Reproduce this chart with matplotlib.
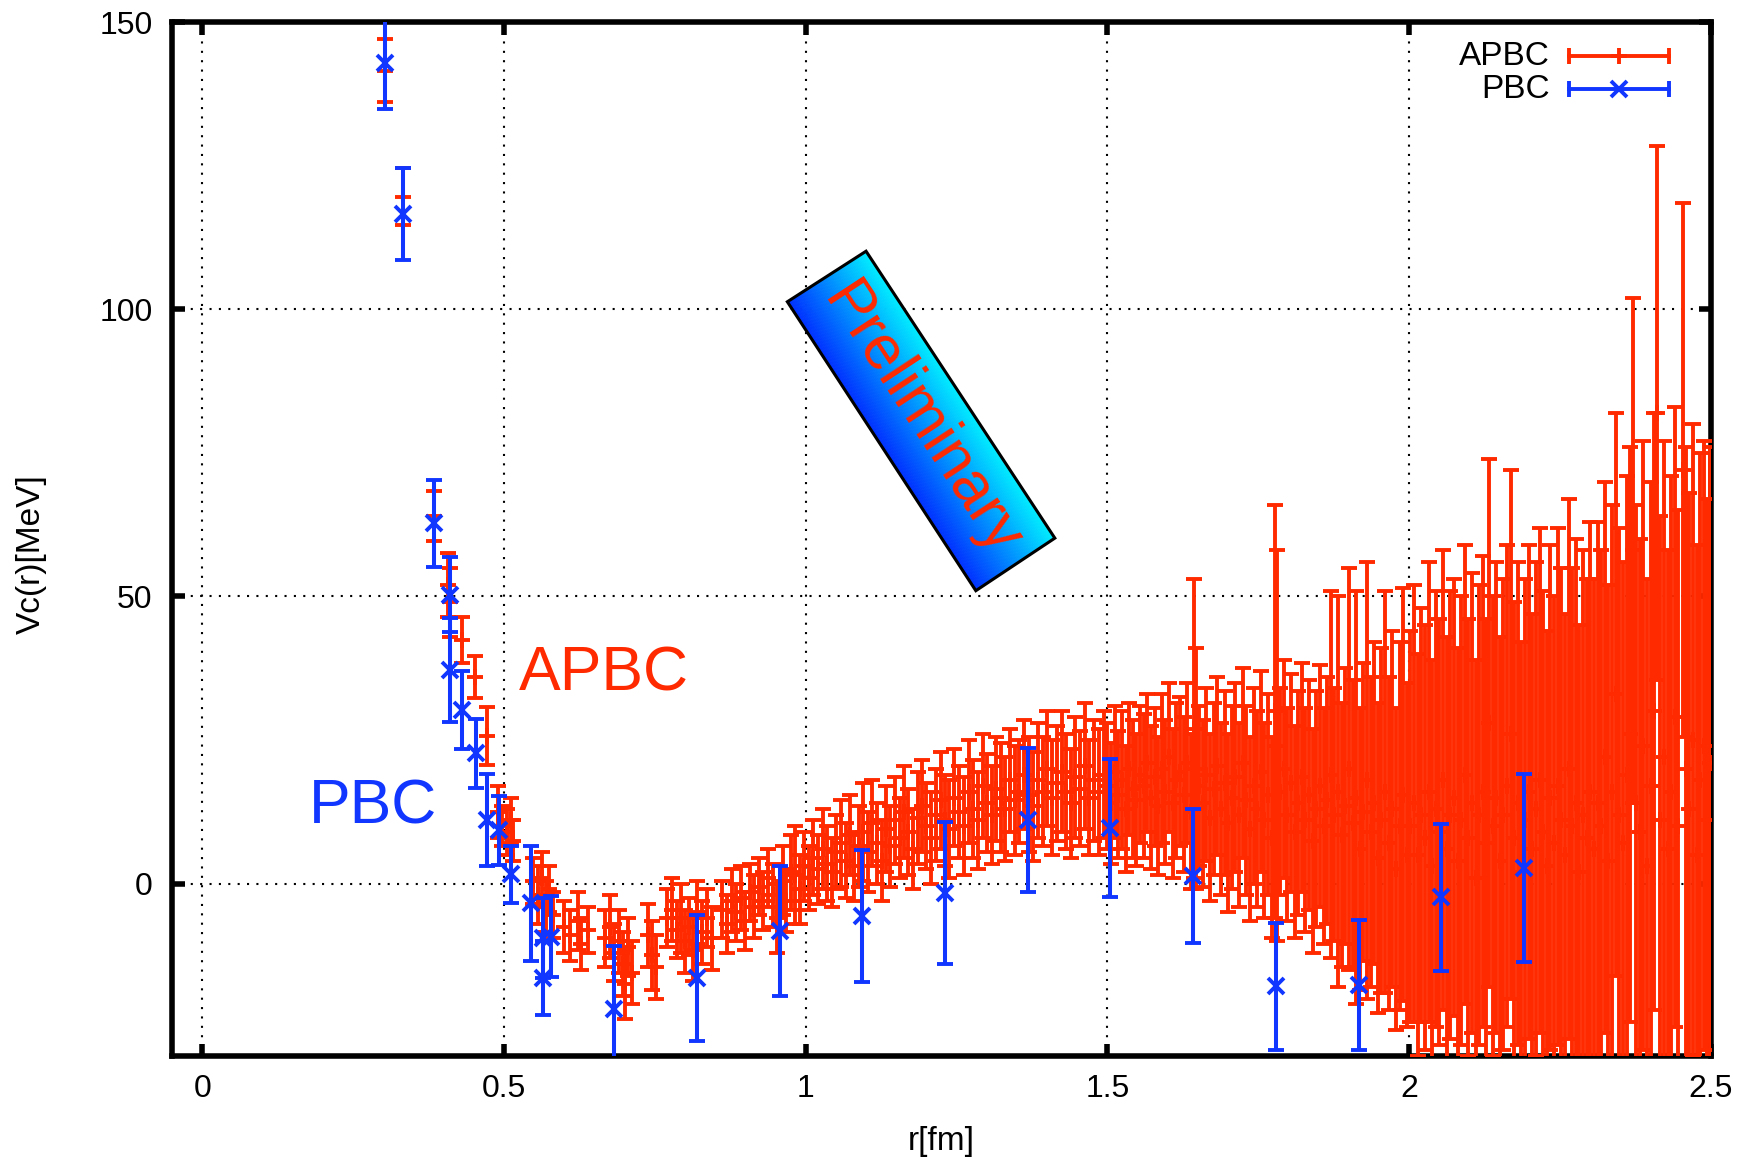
import numpy as np
import matplotlib
matplotlib.use("Agg")
from matplotlib import pyplot as plt
from matplotlib.patches import Polygon

plt.rcParams["font.family"] = ["Liberation Sans", "DejaVu Sans"]

RED = "#ff2a00"
BLUE = "#1036ff"

# PBC points (r [fm], Vc [MeV], error)
PBC_R = [0.303, 0.333, 0.384, 0.410, 0.410, 0.431, 0.453, 0.472, 0.492, 0.511,
         0.545, 0.564, 0.564, 0.578, 0.683, 0.820, 0.957, 1.094, 1.231, 1.368,
         1.505, 1.642, 1.779, 1.916, 2.053, 2.190]
PBC_V = [142.9, 116.5, 62.7, 50.3, 37.2, 30.3, 22.7, 11.1, 9.3, 1.6,
         -3.4, -9.5, -16.4, -9.2, -21.9, -16.4, -8.3, -5.7, -1.6, 11.1,
         9.7, 1.3, -17.9, -17.6, -2.4, 2.7]
PBC_E = [8.0, 8.0, 7.5, 6.5, 9.0, 6.8, 6.0, 8.0, 6.0, 5.0,
         10.0, 7.0, 6.5, 7.0, 11.0, 11.0, 11.3, 11.5, 12.4, 12.6,
         12.0, 11.7, 11.0, 11.3, 12.8, 16.4]

# APBC points, short range
APBC_R1 = [0.303, 0.333, 0.384, 0.408, 0.411, 0.431, 0.452, 0.472, 0.490, 0.497, 0.505, 0.512, 0.515]
APBC_V1 = [141.5, 119.6, 64.0, 52.0, 49.0, 42.5, 36.0, 25.7, 12.5, 10.0, 9.0, 11.0, 7.5]
APBC_E1 = [5.5, 4.9, 4.4, 5.5, 6.0, 4.0, 3.6, 5.1, 4.5, 3.5, 4.0, 4.0, 3.5]

# APBC points, 0.54 - 0.96 fm
APBC_R2 = [0.548, 0.556, 0.563, 0.570, 0.575, 0.582, 0.600, 0.610, 0.622, 0.628,
           0.640, 0.668, 0.676, 0.683, 0.690, 0.697, 0.700, 0.706, 0.712, 0.738,
           0.745, 0.752, 0.770, 0.778, 0.786, 0.793, 0.800, 0.806, 0.813, 0.820,
           0.828, 0.836, 0.844, 0.862, 0.870, 0.878, 0.885, 0.893, 0.900, 0.908,
           0.915, 0.922, 0.930, 0.938, 0.946, 0.953]
APBC_V2 = [0.5, -2.0, 1.0, -4.0, -1.0, -5.5, -7.5, -9.0, -6.5, -10.5,
           -8.0, -9.5, -7.5, -12.0, -10.0, -14.0, -17.5, -11.0, -15.5, -9.0,
           -12.5, -14.5, -6.0, -4.5, -8.0, -6.0, -10.0, -7.5, -11.5, -5.0,
           -8.5, -6.0, -9.5, -4.5, -7.0, -3.0, -5.0, -2.5, -6.5, -1.5,
           -4.0, -0.5, -3.0, 1.0, -2.0, -6.0]
APBC_E2 = [4.0, 5.0, 4.5, 4.5, 4.0, 4.0, 4.5, 4.5, 5.0, 4.5,
           4.0, 5.0, 5.5, 5.0, 5.5, 5.5, 6.0, 5.0, 5.5, 5.5,
           6.0, 5.5, 5.0, 5.5, 5.0, 6.0, 5.5, 5.0, 5.5, 5.5,
           5.5, 5.0, 5.5, 5.0, 5.0, 5.5, 5.0, 5.5, 5.0, 5.0,
           5.5, 5.0, 5.0, 5.0, 5.5, 6.0]

# APBC points, 0.96 - 1.5 fm
APBC_R3 = [0.962, 0.968, 0.975, 0.982, 0.990, 0.997, 1.005, 1.012, 1.020, 1.028,
           1.035, 1.043, 1.050, 1.058, 1.066, 1.073, 1.080, 1.088, 1.095, 1.103,
           1.110, 1.118, 1.126, 1.133, 1.140, 1.148, 1.156, 1.163, 1.170, 1.178,
           1.186, 1.193, 1.200, 1.208, 1.216, 1.224, 1.231, 1.238, 1.246, 1.254,
           1.262, 1.270, 1.278, 1.286, 1.294, 1.300, 1.308, 1.316, 1.323, 1.331,
           1.339, 1.346, 1.354, 1.362, 1.370, 1.377, 1.385, 1.393, 1.400, 1.408,
           1.416, 1.424, 1.431, 1.439, 1.447, 1.455, 1.463, 1.470, 1.478, 1.486,
           1.494]
APBC_V3 = [0.5, -3.0, 2.0, 1.5, -1.0, 3.0, 1.0, 4.5, 2.5, 6.0,
           3.5, 2.0, 5.5, 7.0, 4.0, 8.5, 3.0, 6.5, 9.0, 5.5,
           10.5, 7.0, 4.0, 9.5, 6.5, 11.0, 8.0, 12.5, 9.0, 6.0,
           11.5, 13.5, 10.0, 8.0, 12.0, 14.5, 11.0, 9.5, 15.0, 12.5,
           10.0, 16.0, 13.0, 11.0, 17.0, 14.0, 12.0, 16.5, 15.0, 13.0,
           18.0, 14.5, 16.0, 19.0, 15.5, 13.5, 18.0, 16.0, 20.0, 15.0,
           17.5, 19.5, 16.0, 14.0, 18.5, 16.5, 20.5, 15.0, 18.0, 16.0,
           19.0]
APBC_E3 = [6.0, 5.5, 6.5, 8.5, 6.0, 6.0, 5.5, 6.5, 6.0, 7.0,
           6.5, 6.0, 6.5, 7.5, 6.5, 7.0, 6.0, 7.0, 8.5, 7.0,
           7.5, 7.0, 7.0, 7.5, 7.0, 7.5, 7.0, 8.0, 7.5, 7.0,
           8.0, 8.0, 7.5, 8.0, 8.0, 8.5, 8.0, 8.5, 8.5, 8.0,
           8.5, 9.0, 8.5, 8.5, 9.0, 8.5, 8.5, 9.0, 9.5, 9.0,
           9.0, 9.5, 9.0, 9.5, 10.0, 9.5, 10.0, 9.5, 10.0, 10.0,
           10.0, 10.5, 10.0, 9.5, 10.5, 10.0, 11.0, 10.0, 10.5, 11.0,
           11.0]

# APBC points, 1.5 - 2.0 fm
APBC_R4 = [1.500, 1.506, 1.512, 1.518, 1.524, 1.530, 1.536, 1.542, 1.548, 1.554,
           1.560, 1.566, 1.572, 1.578, 1.584, 1.590, 1.596, 1.602, 1.608, 1.614,
           1.620, 1.626, 1.632, 1.638, 1.644, 1.647, 1.652, 1.658, 1.664, 1.670,
           1.676, 1.682, 1.688, 1.694, 1.700, 1.706, 1.712, 1.718, 1.724, 1.730,
           1.736, 1.742, 1.748, 1.754, 1.760, 1.766, 1.772, 1.778, 1.781, 1.786,
           1.792, 1.798, 1.804, 1.810, 1.816, 1.822, 1.828, 1.834, 1.840, 1.846,
           1.852, 1.858, 1.864, 1.870, 1.876, 1.882, 1.888, 1.894, 1.900, 1.906,
           1.912, 1.918, 1.924, 1.930, 1.936, 1.942, 1.948, 1.954, 1.960, 1.966,
           1.972, 1.978, 1.984, 1.990, 1.996]
APBC_V4 = [17.0, 14.0, 19.5, 15.5, 18.0, 13.0, 20.0, 16.5, 14.5, 19.0,
           17.0, 21.0, 15.0, 18.5, 13.5, 20.0, 16.0, 22.0, 14.0, 18.0,
           19.5, 15.5, 21.0, 12.5, 27.0, 20.0, 17.0, 14.0, 19.0, 11.5,
           16.5, 20.5, 13.0, 17.5, 10.5, 15.0, 18.5, 12.0, 21.0, 14.5,
           9.5, 17.0, 13.0, 19.5, 11.0, 15.5, 8.0, 30.0, 24.0, 16.0,
           20.0, 12.0, 17.5, 9.0, 14.0, 18.5, 11.0, 15.5, 7.5, 13.0,
           17.0, 10.0, 14.5, 19.0, 12.0, 16.0, 8.5, 13.5, 20.0, 10.5,
           15.0, 6.0, 12.5, 18.0, 9.0, 14.0, 4.5, 11.0, 16.0, 7.0,
           13.0, 2.5, 10.0, 15.5, 5.0]
APBC_E4 = [11.0, 10.5, 11.5, 11.0, 12.0, 11.0, 11.5, 12.0, 11.5, 12.0,
           12.5, 12.0, 12.5, 12.0, 12.0, 13.0, 12.5, 13.0, 13.0, 13.5,
           13.0, 13.5, 14.0, 13.5, 26.0, 21.0, 14.0, 14.5, 15.0, 14.5,
           15.0, 15.5, 15.0, 16.0, 15.5, 16.0, 16.5, 16.0, 16.5, 16.5,
           16.0, 17.0, 17.0, 17.5, 17.0, 17.5, 17.5, 36.0, 34.0, 18.0,
           19.0, 18.5, 19.0, 18.5, 19.5, 20.0, 19.5, 20.0, 19.5, 20.5,
           21.0, 20.5, 21.5, 32.0, 22.0, 34.0, 23.0, 24.0, 35.0, 25.0,
           36.0, 24.5, 26.0, 38.0, 27.0, 28.0, 27.0, 30.0, 35.0, 29.0,
           31.0, 28.0, 32.0, 36.0, 30.0]

# APBC points, 2.0 - 2.5 fm
APBC_R5 = [2.002, 2.008, 2.014, 2.020, 2.026, 2.032, 2.038, 2.044, 2.050, 2.056,
           2.062, 2.068, 2.074, 2.080, 2.086, 2.092, 2.098, 2.104, 2.110, 2.116,
           2.122, 2.128, 2.132, 2.138, 2.144, 2.150, 2.156, 2.162, 2.168, 2.174,
           2.180, 2.186, 2.192, 2.198, 2.204, 2.210, 2.216, 2.222, 2.228, 2.234,
           2.240, 2.246, 2.252, 2.258, 2.264, 2.270, 2.276, 2.282, 2.288, 2.294,
           2.300, 2.306, 2.312, 2.318, 2.324, 2.330, 2.336, 2.342, 2.348, 2.354,
           2.360, 2.366, 2.371, 2.376, 2.382, 2.388, 2.394, 2.400, 2.406, 2.410,
           2.416, 2.422, 2.428, 2.434, 2.440, 2.446, 2.453, 2.458, 2.464, 2.470,
           2.476, 2.482, 2.488, 2.494, 2.499]
APBC_V5 = [10.0, 14.0, 5.0, 12.0, 8.0, 16.0, 3.0, 13.0, 9.0, 18.0,
           6.0, 12.0, 15.0, 4.0, 11.0, 19.0, 8.0, 14.0, 1.0, 12.0,
           16.0, 7.0, 28.0, 10.0, 15.0, 4.0, 12.0, 17.0, 26.0, 8.0,
           14.0, 2.0, 11.0, 16.0, 6.0, 13.0, 18.0, 9.0, 3.0, 15.0,
           7.0, 17.0, 11.0, 5.0, 20.0, 10.0, 14.0, 2.0, 12.0, 8.0,
           16.0, 6.0, 14.0, 10.0, 22.0, 4.0, 16.0, 33.0, 12.0, 7.0,
           19.0, 26.0, 58.0, 14.0, 9.0, 24.0, 3.0, 17.0, 30.0, 82.0,
           11.0, 22.0, 6.0, 16.0, 29.0, 10.0, 72.0, 20.0, 13.0, 25.0,
           5.0, 18.0, 24.0, 11.0, 21.0]
APBC_E5 = [34.0, 38.0, 35.0, 36.0, 37.0, 40.0, 36.0, 38.0, 37.0, 40.0,
           37.0, 39.0, 38.0, 37.0, 39.0, 40.0, 38.0, 40.0, 38.0, 40.0,
           41.0, 39.0, 46.0, 40.0, 41.0, 39.0, 41.0, 42.0, 46.0, 41.0,
           42.0, 40.0, 42.0, 43.0, 41.0, 43.0, 44.0, 42.0, 41.0, 44.0,
           43.0, 45.0, 44.0, 42.0, 47.0, 45.0, 46.0, 43.0, 46.0, 45.0,
           47.0, 47.0, 49.0, 48.0, 48.0, 48.0, 50.0, 49.0, 50.0, 49.0,
           52.0, 50.0, 44.0, 52.0, 51.0, 53.0, 50.0, 53.0, 52.0, 46.5,
           53.0, 55.0, 52.0, 55.0, 54.0, 55.0, 46.5, 56.0, 55.0, 55.0,
           54.0, 57.0, 53.0, 56.0, 55.0]

# "Preliminary" stamp corners (r, V): top-left, top-right, bottom-right, bottom-left
STAMP = [(0.9696, 101.3), (1.1000, 110.1), (1.4128, 60.15), (1.2819, 51.0)]


def main() -> None:
    W, H = 1748, 1166
    fig = plt.figure(figsize=(W / 100, H / 100), dpi=100)
    L, R, T, B = 172, 1711, 22, 1056
    ax = fig.add_axes([L / W, 1 - B / H, (R - L) / W, (B - T) / H])

    apbc_r = APBC_R1 + APBC_R2 + APBC_R3 + APBC_R4 + APBC_R5
    apbc_v = APBC_V1 + APBC_V2 + APBC_V3 + APBC_V4 + APBC_V5
    apbc_e = APBC_E1 + APBC_E2 + APBC_E3 + APBC_E4 + APBC_E5

    ax.errorbar(apbc_r, apbc_v, yerr=apbc_e, fmt="+", color=RED, ms=11, mew=2.8,
                elinewidth=2.8, capsize=5.6, capthick=2.8, zorder=3)
    ax.errorbar(PBC_R, PBC_V, yerr=PBC_E, fmt="x", color=BLUE, ms=12, mew=2.8,
                elinewidth=2.9, capsize=5.6, capthick=2.9, zorder=4)

    ax.set_xlim(-0.05, 2.5)
    ax.set_ylim(-30, 150)
    ax.set_xticks([0, 0.5, 1, 1.5, 2, 2.5])
    ax.set_xticklabels(["0", "0.5", "1", "1.5", "2", "2.5"])
    ax.set_yticks([0, 50, 100, 150])
    ax.tick_params(direction="in", length=9, width=4, top=True, right=True,
                   labelsize=23)
    ax.tick_params(axis="y", pad=14)
    ax.tick_params(axis="x", pad=13)
    for s in ax.spines.values():
        s.set_linewidth(4)
    ax.grid(True, color="black", linestyle=(0, (1, 3.5)), linewidth=1.5)
    ax.set_axisbelow(True)

    ax.set_xlabel("r[fm]", fontsize=24)
    ax.xaxis.set_label_coords(0.5, -0.068)
    ax.set_ylabel("Vc(r)[MeV]", fontsize=24)
    ax.yaxis.set_label_coords(-0.081, 0.485)

    # legend, gnuplot style
    lx0, lx1, lxc = 0.9078, 0.9727, 0.9402
    for y, lab, col, mk, ms in [(0.967, "APBC", RED, "+", 11), (0.935, "PBC", BLUE, "x", 12)]:
        ax.text(0.8955, y, lab, transform=ax.transAxes, ha="right", va="center", fontsize=24)
        ax.plot([lx0, lx1], [y, y], color=col, lw=2.8, transform=ax.transAxes, zorder=5)
        ax.plot([lx0, lx1], [y, y], ls="none", marker="|", ms=11, mew=2.8, color=col,
                transform=ax.transAxes, zorder=5)
        ax.plot([lxc], [y], ls="none", marker=mk, ms=ms, mew=2.8, color=col,
                transform=ax.transAxes, zorder=5)

    ax.text(0.665, 36.5, "APBC", color=RED, fontsize=45, ha="center", va="center", zorder=6)
    ax.text(0.283, 13.4, "PBC", color=BLUE, fontsize=45, ha="center", va="center", zorder=6)

    # gradient stamp
    tl, tr, br, bl = [np.array(p) for p in STAMP]
    c0 = np.array([0.0, 0.18, 1.0])
    c1 = np.array([0.0, 0.93, 1.0])
    n = 60
    for i in range(n):
        a, b = i / n, (i + 1) / n
        strip = [tl + a * (tr - tl), tl + b * (tr - tl), bl + b * (br - bl), bl + a * (br - bl)]
        col = c0 + (a + b) / 2 * (c1 - c0)
        ax.add_patch(Polygon(strip, closed=True, facecolor=col, edgecolor=col, lw=0.6, zorder=7))
    ax.add_patch(Polygon(STAMP, closed=True, facecolor="none", edgecolor="black", lw=2.2, zorder=8))
    cx = np.mean([p[0] for p in STAMP])
    cy = np.mean([p[1] for p in STAMP])
    ax.text(cx, cy, "Preliminary", color=RED, fontsize=45, rotation=-56.7,
            ha="center", va="center", zorder=9)

    fig.savefig("out.png", dpi=100)
    plt.close(fig)


if __name__ == "__main__":
    main()
